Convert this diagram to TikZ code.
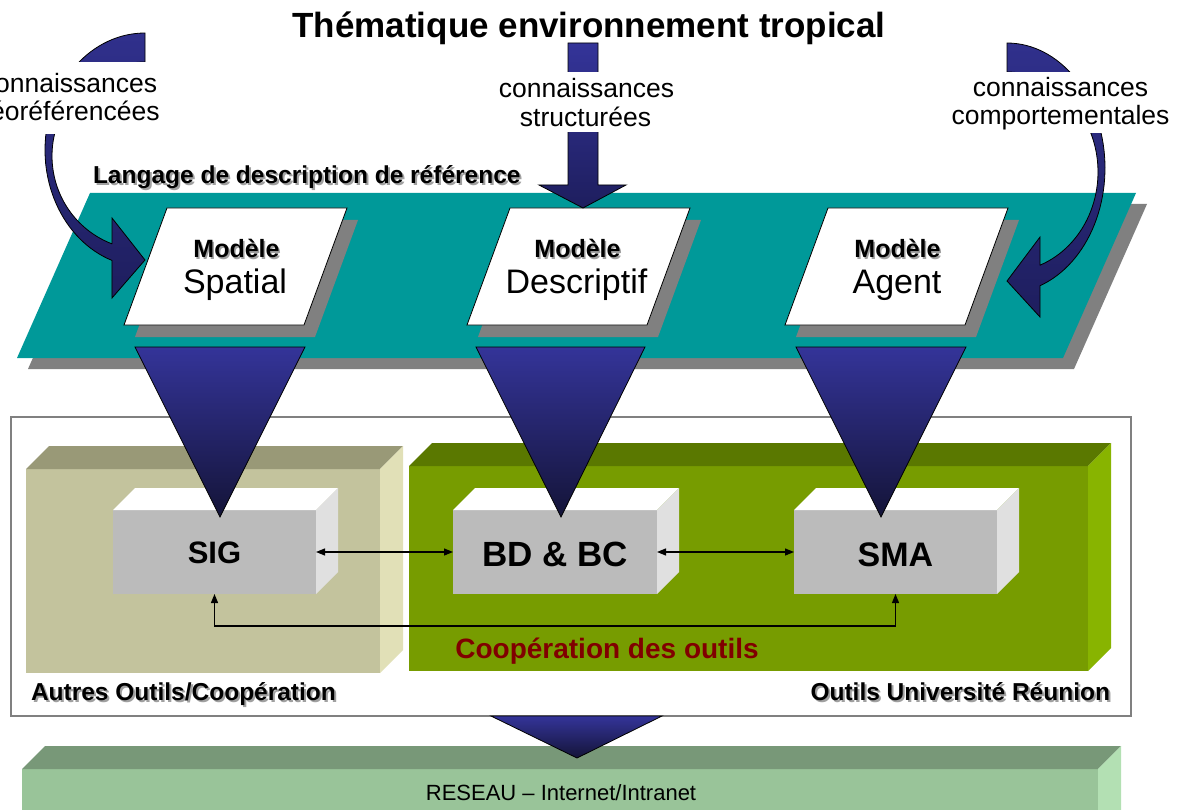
\documentclass[tikz,border=0pt]{standalone}
\usepackage{fontspec}
\setmainfont{Liberation Sans}
\usetikzlibrary{arrows.meta,calc}
\definecolor{tealband}{HTML}{009999}
\definecolor{shadowgray}{HTML}{808080}
\definecolor{navytop}{HTML}{343499}
\definecolor{navybot}{HTML}{141438}
\definecolor{curvetop}{HTML}{30308C}
\definecolor{curvebot}{HTML}{1E1E5E}
\definecolor{tanfront}{HTML}{C3C39D}
\definecolor{tantop}{HTML}{999977}
\definecolor{tanside}{HTML}{E1E0B7}
\definecolor{grfront}{HTML}{779C00}
\definecolor{grtop}{HTML}{5A7800}
\definecolor{grside}{HTML}{88B400}
\definecolor{boxfront}{HTML}{BBBBBB}
\definecolor{boxside}{HTML}{E0E0E0}
\definecolor{netfront}{HTML}{99C499}
\definecolor{nettop}{HTML}{789878}
\definecolor{netside}{HTML}{B3E0B3}
\definecolor{coopred}{HTML}{800000}
\definecolor{txtshadow}{HTML}{A0A0A0}
\tikzset{
  ftxt/.style={inner sep=0pt, outer sep=0pt, font=\fontsize{#1}{#1}\selectfont},
  fbold/.style={inner sep=0pt, outer sep=0pt, font=\fontsize{#1}{#1}\selectfont\bfseries},
  face/.style={inner sep=0pt, outer sep=0pt, draw=none},
  mask/.style={inner sep=0pt, outer sep=0pt, draw=none, fill=white},
  para/.style={fill=white, draw=black, line width=0.8pt},
  funnel/.style={draw=black, line width=0.8pt, top color=navytop, bottom color=navybot},
  curvearrow/.style={draw=black, line width=0.8pt, top color=curvetop, bottom color=curvebot},
  link/.style={line width=1.2pt, <->, >={Triangle[length=9pt,width=7pt]}}
}
\newcommand\cubefaces[4]{%
  \fill[#3] (#1.north west) -- ++(#2,-#2) -- ($(#1.north east)+(#2,-#2)$) -- (#1.north east) -- cycle;
  \fill[#4] (#1.north east) -- ++(#2,-#2) -- ($(#1.south east)+(#2,-#2)$) -- (#1.south east) -- cycle;
}
\begin{document}
\begin{tikzpicture}[x=1pt,y=-1pt]
\useasboundingbox (0,0) rectangle (1185,810);
\clip (0,0) rectangle (1185,810);
\fill[white] (0,0) rectangle (1185,810);

% reference description band
\fill[shadowgray] (101,204) -- (1147,204) -- (1074,369) -- (28,369) -- cycle;
\fill[tealband] (90,193) -- (1136,193) -- (1063,358) -- (17,358) -- cycle;

% model parallelograms
\foreach \px in {167,510,828} {
  \fill[shadowgray] (\px+11,220) -- (\px+191,220) -- (\px+148,337) -- (\px-32,337) -- cycle;
  \path[para] (\px,208) -- (\px+180,208) -- (\px+137,325) -- (\px-43,325) -- cycle;
}
\node[fbold=25, text=txtshadow, anchor=base] (m1s) at (238,259.5) {Modèle};
\node[fbold=25, anchor=base] (m1) at (236.5,258) {Modèle};
\node[ftxt=34, anchor=base] (spatial) at (235,293) {Spatial};
\node[fbold=25, text=txtshadow, anchor=base] (m2s) at (579,259.5) {Modèle};
\node[fbold=25, anchor=base] (m2) at (577.5,258) {Modèle};
\node[ftxt=34, anchor=base] (descr) at (576.5,293) {Descriptif};
\node[fbold=25, text=txtshadow, anchor=base] (m3s) at (899,259.5) {Modèle};
\node[fbold=25, anchor=base] (m3) at (897.5,258) {Modèle};
\node[ftxt=34, anchor=base] (agent) at (897,293) {Agent};

% band title
\node[fbold=24.5, text=txtshadow, anchor=base west] (langS) at (95,186) {Langage de description de référence};
\node[fbold=24.5, anchor=base west] (lang) at (93,184) {Langage de description de référence};

% middle straight arrow
\path[draw=black, line width=0.8pt, top color=navytop, bottom color=curvebot]
  (568,43) -- (598,43) -- (598,185) -- (626,185) -- (583,208) -- (539,185) -- (568,185) -- cycle;

% left curved arrow
\path[curvearrow]
  plot[domain=-90:-250.7, samples=60, variable=\t] ({145+100*cos(\t)},{150+117*sin(\t)})
  -- (112,298) -- (145,260) -- (112,218) -- (112,244)
  -- plot[domain=-249.2:-90, samples=60, variable=\t] ({145+93*cos(\t)},{156+94*sin(\t)})
  -- cycle;

% right curved arrow
\path[curvearrow]
  plot[domain=-90:70.3, samples=60, variable=\t] ({1007+98*cos(\t)},{168+125*sin(\t)})
  -- (1040,317) -- (1007,281) -- (1040,237) -- (1040,265)
  -- plot[domain=68.7:-90, samples=60, variable=\t] ({1007+91*cos(\t)},{172+100*sin(\t)})
  -- cycle;

% knowledge labels on white masks
\node[mask, minimum width=182pt, minimum height=72pt] (maskL) at (77,98) {};
\node[mask, minimum width=40pt, minimum height=60pt] (maskM) at (583,102) {};
\node[mask, minimum width=130pt, minimum height=61pt] (maskR) at (1060,102.5) {};
\node[ftxt=26.5, anchor=base] (kl1) at (69.5,93) {connaissances};
\node[ftxt=26.5, anchor=base] (kl2) at (67.5,121) {géoréférencées};
\node[ftxt=26.5, anchor=base] (km1) at (586.5,98) {connaissances};
\node[ftxt=26.5, anchor=base] (km2) at (585.5,127) {structurées};
\node[ftxt=26.5, anchor=base] (kr1) at (1060.5,97) {connaissances};
\node[ftxt=26.5, anchor=base] (kr2) at (1060.5,125) {comportementales};

% title
\node[fbold=35, anchor=base] (title) at (589,38) {Thématique environnement tropical};

% tools frame
\node[draw=shadowgray, line width=2pt, inner sep=0pt, minimum width=1120pt, minimum height=299pt] (frame) at (571,566.5) {};

% tool groups
\node[face, fill=tanfront, minimum width=354pt, minimum height=204pt] (autres) at (203,571) {};
\cubefaces{autres}{23}{tantop}{tanside}
\node[face, fill=grfront, minimum width=679pt, minimum height=205pt] (univ) at (748.5,568.5) {};
\cubefaces{univ}{23}{grtop}{grside}
\node[fbold=24.5, text=txtshadow, anchor=base west] (autresLS) at (33,702) {Autres Outils/Coopération};
\node[fbold=24.5, anchor=base west] (autresL) at (31,700) {Autres Outils/Coopération};
\node[fbold=24.5, text=txtshadow, anchor=base east] (univLS) at (1112,702) {Outils Université Réunion};
\node[fbold=24.5, anchor=base east] (univL) at (1110,700) {Outils Université Réunion};
\node[fbold=28, text=coopred, anchor=base] (coop) at (607,658) {Coopération des outils};

% tools
\node[face, fill=boxfront, minimum width=203pt, minimum height=84pt] (sig) at (214.5,552) {};
\cubefaces{sig}{22}{white}{boxside}
\node[face, fill=boxfront, minimum width=204pt, minimum height=84pt] (bd) at (555,552) {};
\cubefaces{bd}{22}{white}{boxside}
\node[face, fill=boxfront, minimum width=203pt, minimum height=84pt] (sma) at (895.5,552) {};
\cubefaces{sma}{22}{white}{boxside}
\node[fbold=31, anchor=base] (sigT) at (214.5,563) {SIG};
\node[fbold=35, anchor=base] (bdT) at (555,566) {BD \& BC};
\node[fbold=34, anchor=base] (smaT) at (895.5,566) {SMA};

\draw[link] (sig.east) -- (bd.west);
\draw[link] (bd.east) -- (sma.west);
\draw[link] (sig.south) -- ++(0,32) -| (sma.south);

% funnels from models to tools
\path[funnel] (135,347) -- (305,347) -- (220,517) -- cycle;
\path[funnel] (476,347) -- (645,347) -- (561,517) -- cycle;
\path[funnel] (796,347) -- (966,347) -- (881,517) -- cycle;

% network bar
\node[face, fill=netfront, minimum width=1076pt, minimum height=80pt] (net) at (560,809) {};
\cubefaces{net}{23}{nettop}{netside}
\node[ftxt=22, anchor=base] (netT) at (561,800) {RESEAU -- Internet/Intranet};

\path[funnel] (491,716) -- (662,716) -- (577,758) -- cycle;
\end{tikzpicture}
\end{document}
